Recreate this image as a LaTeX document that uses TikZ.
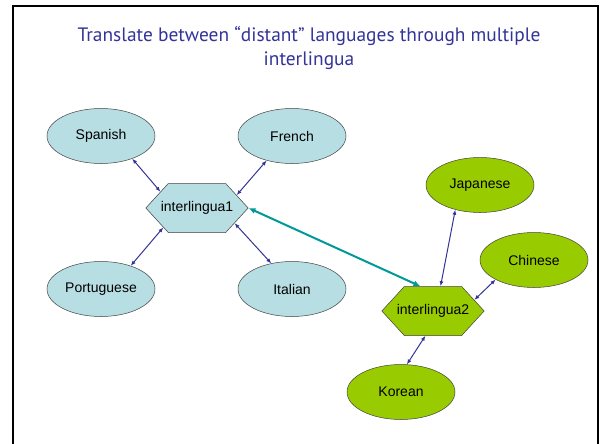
\documentclass[tikz,border=0pt]{standalone}
\usepackage{fontspec}
\setmainfont{Liberation Sans}
\newfontfamily\titlefont{PT Sans}
\usepackage{xcolor}
\usetikzlibrary{shapes.geometric,shapes.symbols,arrows.meta}

\definecolor{lightteal}{RGB}{183,222,227}
\definecolor{limegreen}{RGB}{153,204,0}
\definecolor{linkblue}{RGB}{51,51,153}
\definecolor{bridgeteal}{RGB}{0,153,153}
\definecolor{titleblue}{RGB}{51,51,153}

\begin{document}
\begin{tikzpicture}[x=1pt,y=-1pt,
	lang/.style={ellipse,draw=black!75,line width=0.5pt,minimum width=108pt,minimum height=55pt,inner sep=0pt,font=\fontsize{14}{16}\selectfont},
	hub/.style={signal,signal to=east and west,signal pointer angle=95,draw=black!75,line width=0.5pt,minimum height=49pt,inner ysep=0pt,inner xsep=-7.5pt,font=\fontsize{14}{16}\selectfont},
	link/.style={draw=linkblue,line width=1pt,{Latex[length=5pt,width=4pt]}-{Latex[length=5pt,width=4pt]}},
	bridge/.style={draw=bridgeteal,line width=2pt,{Latex[length=7pt,width=6pt]}-{Latex[length=7pt,width=6pt]}}]
	%\draw[help lines] (0,0) grid (602,444);
	\useasboundingbox (0,0) rectangle (602,444);
	
	\draw[line width=2.5pt] (13,444) -- (13,6) -- (598,6) -- (598,444);
	\node[align=center,text=titleblue,font=\titlefont\fontsize{19.4}{24}\selectfont] (title) at (309,48) {Translate between “distant” languages through multiple\\interlingua};
	
	\node[lang,fill=lightteal] (spanish) at (101,136) {Spanish};
	\node[lang,fill=lightteal] (french) at (292,136) {French};
	\node[lang,fill=lightteal] (portuguese) at (101,289) {Portuguese};
	\node[lang,fill=lightteal] (italian) at (292,289) {Italian};
	\node[hub,fill=lightteal] (il1) at (197,208) {interlingua1};
	
	\node[lang,fill=limegreen] (japanese) at (480,185) {Japanese};
	\node[lang,fill=limegreen] (chinese) at (534,260) {Chinese};
	\node[lang,fill=limegreen] (korean) at (401,392) {Korean};
	\node[hub,fill=limegreen] (il2) at (433,311) {interlingua2};
	
	\draw[link] (spanish.-36) -- (il1.156);
	\draw[link] (french.224) -- (il1.18);
	\draw[link] (portuguese.38) -- (il1.210);
	\draw[link] (italian.129) -- (il1.-22);
	
	\draw[link] (japanese.-135) -- (il2.73);
	\draw[link] (chinese.207) -- (il2.15);
	\draw[link] (korean.78) -- (il2.-107);
	
	\draw[bridge] (il1.east) -- (il2.117);
\end{tikzpicture}
\end{document}
